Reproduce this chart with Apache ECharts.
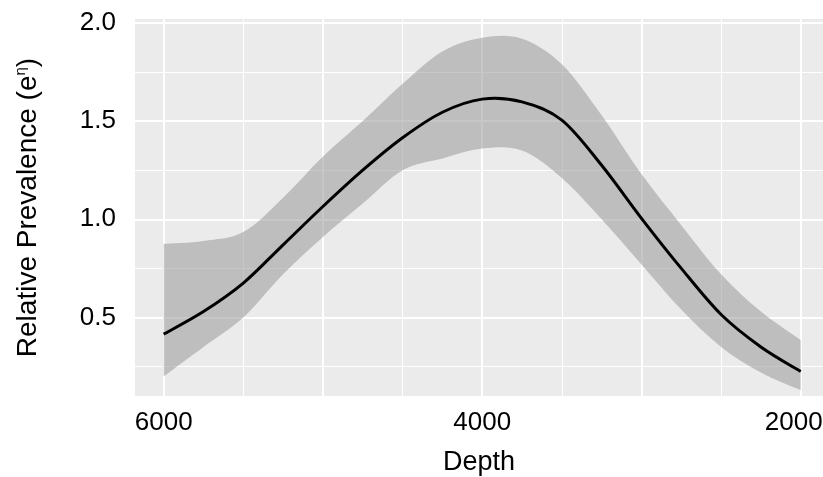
<!DOCTYPE html>
<html>
<head>
<meta charset="utf-8">
<script src="https://cdn.jsdelivr.net/npm/echarts@6/dist/echarts.min.js"></script>
<style>
  html, body { margin: 0; padding: 0; background: #ffffff; }
  #relPrev { width: 823px; height: 477px; }
</style>
</head>
<body>
<div id="relPrev"></div>
<script>
/* jshint esversion: 6 */
var fontFamily = "'Liberation Sans', Arial, Helvetica, sans-serif";

// depth (x) and fitted curve with its confidence band
var depth = [6000, 5750, 5500, 5250, 5000, 4750, 4500, 4250, 4000, 3750, 3500, 3250, 3000, 2750, 2500, 2250, 2000];
var fitMean = [0.415, 0.53, 0.675, 0.87, 1.065, 1.25, 1.415, 1.545, 1.612, 1.598, 1.505, 1.275, 1.005, 0.75, 0.515, 0.35, 0.225];
var fitLower = [0.20, 0.35, 0.50, 0.72, 0.91, 1.08, 1.25, 1.31, 1.36, 1.35, 1.21, 1.00, 0.77, 0.54, 0.35, 0.22, 0.13];
var fitUpper = [0.875, 0.89, 0.935, 1.11, 1.32, 1.50, 1.69, 1.855, 1.925, 1.92, 1.79, 1.53, 1.23, 0.97, 0.72, 0.53, 0.385];

// ticks and grid lines
var xLabels = [2000, 4000, 6000];
var yLabels = [0.5, 1.0, 1.5, 2.0];
var xMajor = [2000, 3000, 4000, 5000, 6000];
var xMinor = [2500, 3500, 4500, 5500];
var yMajor = [0.5, 1.0, 1.5, 2.0];
var yMinor = [0.25, 0.75, 1.25, 1.75];

// courbe lissée (catmull-rom -> bezier) a partir de points en pixels
function curvePath(pts) {
  var d = '';
  for (var i = 0; i < pts.length - 1; i++) {
    var p0 = pts[i - 1] || pts[i];
    var p1 = pts[i];
    var p2 = pts[i + 1];
    var p3 = pts[i + 2] || pts[i + 1];
    var c1 = [p1[0] + (p2[0] - p0[0]) / 6, p1[1] + (p2[1] - p0[1]) / 6];
    var c2 = [p2[0] - (p3[0] - p1[0]) / 6, p2[1] - (p3[1] - p1[1]) / 6];
    d += ' C' + c1.join(',') + ' ' + c2.join(',') + ' ' + p2.join(',');
  }
  return d;
}

function toPixels(api, ys) {
  return depth.map(function (dp, i) { return api.coord([dp, ys[i]]); });
}

var tableRows = depth.map(function (dp, i) { return [dp, fitLower[i], fitUpper[i], fitMean[i]]; });

// lignes de la grille (style ggplot)
var gridLines = [];
xMajor.forEach(function (v) { gridLines.push({xAxis: v, lineStyle: {width: 2}}); });
xMinor.forEach(function (v) { gridLines.push({xAxis: v, lineStyle: {width: 1}}); });
yMajor.forEach(function (v) { gridLines.push({yAxis: v, lineStyle: {width: 2}}); });
yMinor.forEach(function (v) { gridLines.push({yAxis: v, lineStyle: {width: 1}}); });

var relPrev = echarts.init(document.getElementById('relPrev'), null, {renderer: 'canvas'});
var relPrevOption = {
  animation: false,
  grid: {
    left: 135,
    right: 0,
    top: 19,
    bottom: 81,
    show: true,
    backgroundColor: '#ebebeb',
    borderWidth: 0,
    containLabel: false,
    outerBoundsMode: 'none'
  },
  xAxis: {
    type: 'value',
    inverse: true,
    min: 1860,
    max: 6180,
    name: 'Depth',
    nameLocation: 'middle',
    nameGap: 53,
    nameTextStyle: {fontFamily: fontFamily, fontSize: 27, color: '#000'},
    axisLine: {show: false},
    axisTick: {show: false},
    splitLine: {show: false},
    axisLabel: {
      customValues: xLabels,
      margin: 14,
      fontFamily: fontFamily,
      fontSize: 26,
      color: '#000',
      // le dernier libellé est poussé un peu à gauche pour rester visible
      formatter: function (v) {
        return v === xLabels[0] ? '{edge|' + v + '}' : String(v);
      },
      rich: {
        edge: {fontFamily: fontFamily, fontSize: 26, color: '#000', padding: [0, 14, 0, 0]}
      }
    }
  },
  yAxis: {
    type: 'value',
    min: 0.1,
    max: 2.02,
    name: '{t|Relative Prevalence (e}{s|η}{t|)}',
    nameLocation: 'middle',
    nameRotate: 90,
    nameGap: 92,
    nameTextStyle: {
      rich: {
        t: {fontFamily: fontFamily, fontSize: 28, color: '#000', lineHeight: 30},
        s: {fontFamily: fontFamily, fontSize: 15, color: '#000', lineHeight: 15, verticalAlign: 'top'}
      }
    },
    axisLine: {show: false},
    axisTick: {show: false},
    splitLine: {show: false},
    axisLabel: {
      customValues: yLabels,
      margin: 19,
      fontFamily: fontFamily,
      fontSize: 26,
      color: '#000',
      formatter: function (v) { return v.toFixed(1); }
    }
  },
  series: [
    {
      // bande de confiance
      type: 'custom',
      data: tableRows,
      encode: {x: 0, y: [1, 2]},
      silent: true,
      z: 3,
      renderItem: function (params, api) {
        if (params.dataIndex !== 0) {
          return null;
        }
        var up = toPixels(api, fitUpper);
        var low = toPixels(api, fitLower).reverse();
        var d = 'M' + up[0].join(',') + curvePath(up) + ' L' + low[0].join(',') + curvePath(low) + ' Z';
        return {
          type: 'path',
          shape: {pathData: d},
          style: {fill: '#999999', opacity: 0.55, stroke: null}
        };
      },
      markLine: {
        z: 1,
        silent: true,
        symbol: ['none', 'none'],
        label: {show: false},
        lineStyle: {color: '#ffffff', type: 'solid', opacity: 1},
        emphasis: {disabled: true},
        data: gridLines
      }
    },
    {
      // courbe ajustée
      type: 'custom',
      data: tableRows,
      encode: {x: 0, y: 3},
      silent: true,
      z: 4,
      renderItem: function (params, api) {
        if (params.dataIndex !== 0) {
          return null;
        }
        var pts = toPixels(api, fitMean);
        return {
          type: 'path',
          shape: {pathData: 'M' + pts[0].join(',') + curvePath(pts)},
          style: {fill: null, stroke: '#000000', lineWidth: 3}
        };
      }
    }
  ]
};

relPrevOption && relPrev.setOption(relPrevOption);
</script>
</body>
</html>
